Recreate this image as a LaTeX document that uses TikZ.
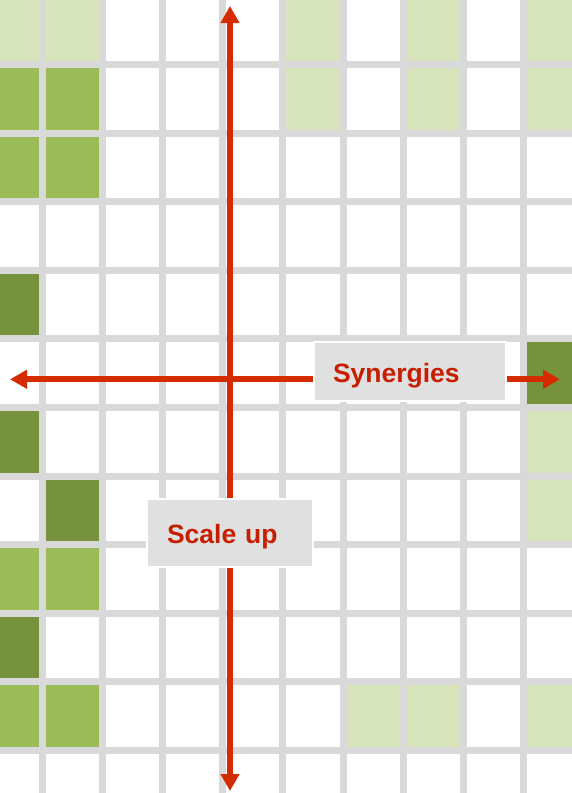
\documentclass[tikz,border=0pt]{standalone}
\usepackage{fontspec}
\setmainfont{Liberation Sans}
\usetikzlibrary{arrows.meta}
\definecolor{gridgray}{HTML}{D9D9D9}
\definecolor{lite}{HTML}{D8E4BC}
\definecolor{med}{HTML}{9BBB59}
\definecolor{dark}{HTML}{76923C}
\definecolor{arrowred}{HTML}{D52B00}
\definecolor{textred}{HTML}{C81E00}
\definecolor{boxgray}{HTML}{E0E0E0}
\tikzset{
  gridline/.style={draw=gridgray, line width=7pt},
  axisarrow/.style={draw=arrowred, line width=6pt, {Triangle[length=17pt,width=18pt]}-{Triangle[length=17pt,width=18pt]}},
  labelbox/.style={fill=boxgray, draw=white, line width=2pt, inner xsep=19pt, inner ysep=0pt,
    align=left, text=textred, text height=21.6pt, text depth=0pt,
    font=\fontsize{26.5}{30}\selectfont\bfseries}
}
\begin{document}
\begin{tikzpicture}[x=1pt,y=-1pt]
\useasboundingbox (0,0) rectangle (572,793);
\fill[white] (0,0) rectangle (572,793);
% coloured cells: column/row/colour
\foreach \c/\r/\col in {0/0/lite,1/0/lite,5/0/lite,7/0/lite,9/0/lite,
  0/1/med,1/1/med,5/1/lite,7/1/lite,9/1/lite,
  0/2/med,1/2/med,
  0/4/dark,
  9/5/dark,
  0/6/dark,9/6/lite,
  1/7/dark,9/7/lite,
  0/8/med,1/8/med,
  0/9/dark,
  0/10/med,1/10/med,6/10/lite,7/10/lite,9/10/lite}{
  \pgfmathsetmacro\xa{\c==0 ? 0 : 42.5+60.1*(\c-1)}
  \pgfmathsetmacro\xb{\c==9 ? 572 : 42.5+60.1*\c}
  \pgfmathsetmacro\ya{\r==0 ? 0 : 64.5+68.6*(\r-1)}
  \pgfmathsetmacro\yb{\r==11 ? 793 : 64.5+68.6*\r}
  \fill[\col] (\xa,\ya) rectangle (\xb,\yb);
}
% grid lines
\foreach \k in {0,...,8}{
  \draw[gridline] ({42.5+60.1*\k},0) -- ({42.5+60.1*\k},793);
}
\foreach \k in {0,...,10}{
  \draw[gridline] (0,{64.5+68.6*\k}) -- (572,{64.5+68.6*\k});
}
% axes
\coordinate (top) at (230,6);
\coordinate (bottom) at (230,791);
\coordinate (left) at (10,379.3);
\coordinate (right) at (560,379.3);
\draw[axisarrow] (bottom) -- (top);
\draw[axisarrow] (left) -- (right);
% labels
\node[labelbox, minimum width=192pt, minimum height=59pt, text width=154pt] (syn) at (410,371.5) {Synergies};
\node[labelbox, inner xsep=20pt, minimum width=166pt, minimum height=68pt, text width=126pt] (scale) at (230,533) {Scale up};
\end{tikzpicture}
\end{document}
